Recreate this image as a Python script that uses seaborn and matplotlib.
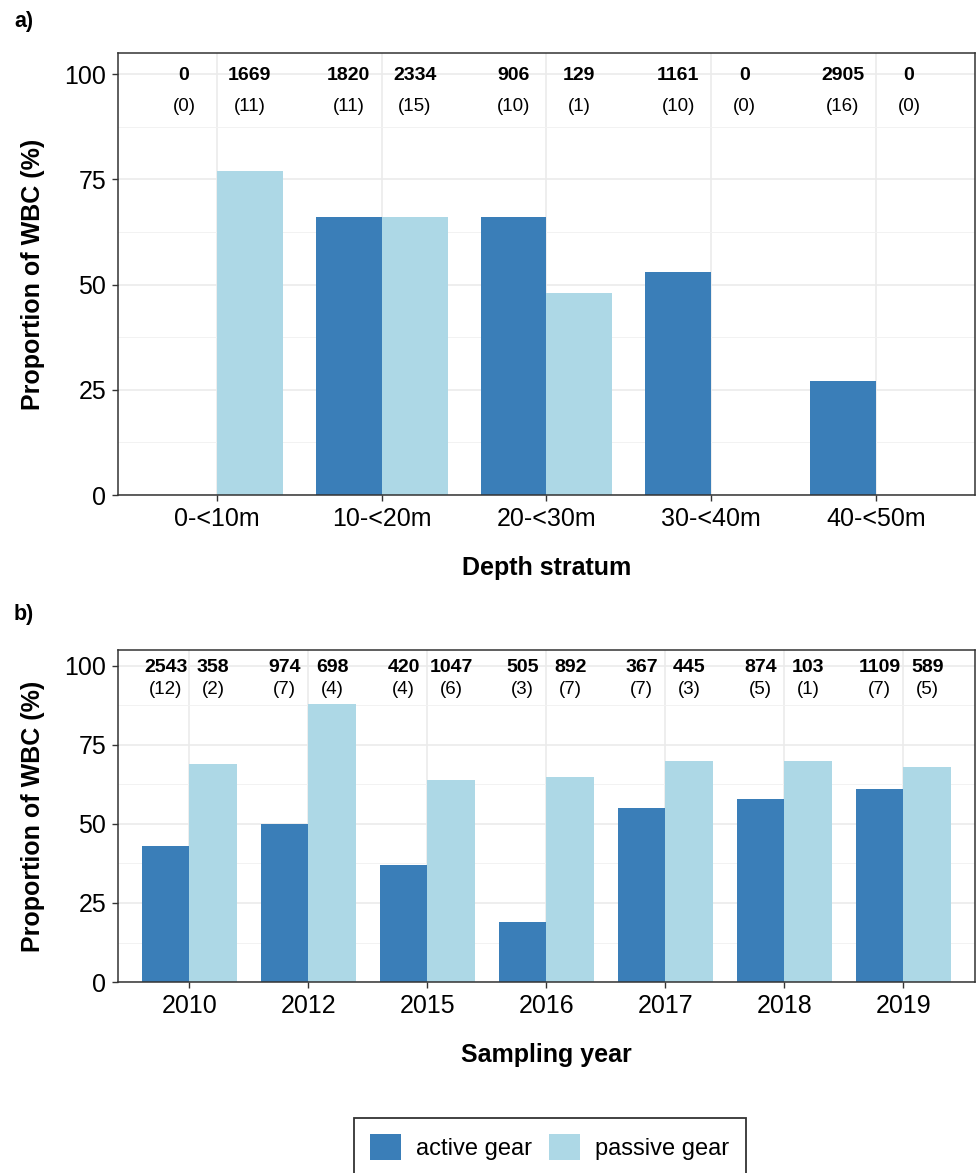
import numpy as np
import pandas as pd
import seaborn as sns
import matplotlib.pyplot as plt
from matplotlib.ticker import MultipleLocator
from matplotlib.patches import Patch

# panel a: depth strata
depths=['0-<10m','10-<20m','20-<30m','30-<40m','40-<50m']
depth_active=[0,66,66,53,27]
depth_passive=[77,66,48,0,0]
depth_active_n=[0,1820,906,1161,2905]
depth_active_k=[0,11,10,10,16]
depth_passive_n=[1669,2334,129,0,0]
depth_passive_k=[11,15,1,0,0]

# panel b: sampling years
years=['2010','2012','2015','2016','2017','2018','2019']
year_active=[43,50,37,19,55,58,61]
year_passive=[69,88,64,65,70,70,68]
year_active_n=[2543,974,420,505,367,874,1109]
year_active_k=[12,7,4,3,7,5,7]
year_passive_n=[358,698,1047,892,445,103,589]
year_passive_k=[2,4,6,7,3,1,5]

gears=['active gear','passive gear']
colors={'active gear':'#3A7EB8','passive gear':'#ADD8E6'}

sns.set_style('ticks')
plt.rcParams['font.family']=['Liberation Sans','DejaVu Sans']
plt.rcParams['text.color']='black'
plt.rcParams['axes.labelcolor']='black'

def panel(ax,cats,act,pas,act_n,act_k,pas_n,pas_k,xlabel):
    df=pd.DataFrame({'cat':cats*2,'prop':act+pas,
                     'gear':[gears[0]]*len(cats)+[gears[1]]*len(cats)})
    sns.barplot(data=df,x='cat',y='prop',hue='gear',hue_order=gears,palette=colors,
                width=0.8,saturation=1,linewidth=0,legend=False,ax=ax,zorder=2)
    for cont,ns,ks in zip(ax.containers,[act_n,pas_n],[act_k,pas_k]):
        for bar,n,k in zip(cont,ns,ks):
            xc=bar.get_x()+bar.get_width()/2
            ax.text(xc,99.6,str(n),ha='center',va='center',fontweight='bold',fontsize=14,zorder=3)
            ax.text(xc,92.4,'(%d)'%k,ha='center',va='center',fontsize=13.5,zorder=3)
    ax.set_xlim(-0.6,len(cats)-0.4)
    ax.set_ylim(0,105)
    ax.set_yticks([0,25,50,75,100])
    ax.yaxis.set_minor_locator(MultipleLocator(12.5))
    ax.set_axisbelow(True)
    ax.grid(which='major',color='#EBEBEB',lw=1.2)
    ax.grid(which='minor',axis='y',color='#F2F2F2',lw=0.7)
    ax.tick_params(which='minor',length=0)
    ax.tick_params(which='major',length=4,width=1,color='#333333',labelcolor='black',
                   labelsize=18,pad=4.5)
    for s in ax.spines.values():
        s.set_visible(True)
        s.set_color('#333333')
        s.set_linewidth(1.1)
    ax.set_xlabel(xlabel,fontweight='bold',fontsize=18,labelpad=18)
    ax.set_ylabel('Proportion of WBC (%)',fontweight='bold',fontsize=18,labelpad=14)

fig=plt.figure(figsize=(9.77,11.73),dpi=100)
ax1=fig.add_axes([0.1208,0.578,0.877,0.3768])
ax2=fig.add_axes([0.1208,0.1628,0.877,0.2830])
panel(ax1,depths,depth_active,depth_passive,depth_active_n,depth_active_k,
      depth_passive_n,depth_passive_k,'Depth stratum')
panel(ax2,years,year_active,year_passive,year_active_n,year_active_k,
      year_passive_n,year_passive_k,'Sampling year')

fig.text(14/977,1-22/1173,'a)',fontweight='bold',fontsize=15.5,va='center')
fig.text(14/977,1-614/1173,'b)',fontweight='bold',fontsize=15.5,va='center')

handles=[Patch(facecolor=colors[g],edgecolor='none',label=g) for g in gears]
leg=fig.legend(handles=handles,loc='center',bbox_to_anchor=(550/977,1-1147/1173),ncol=2,
               frameon=True,fancybox=False,edgecolor='black',fontsize=17,
               handlelength=1.3,handleheight=1.3,handletextpad=0.65,columnspacing=0.72,
               borderpad=0.7)
leg.get_frame().set_linewidth(1.3)
leg.get_frame().set_edgecolor('black')

fig.savefig('out.png',dpi=100)
